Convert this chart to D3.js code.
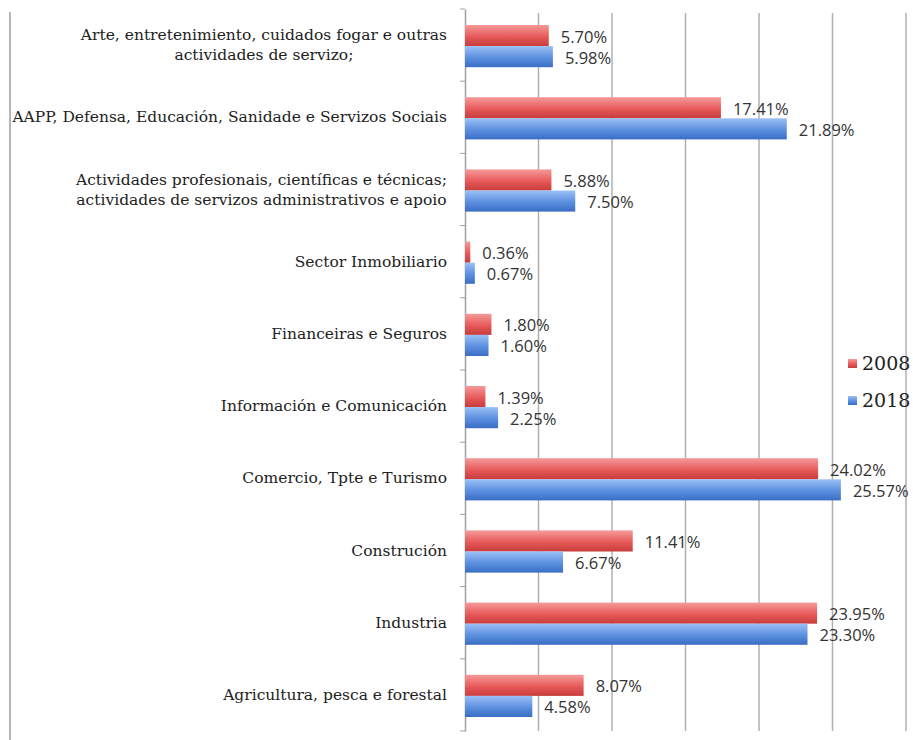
<!DOCTYPE html>
<html>
<head>
<meta charset="utf-8">
<script src="https://cdn.jsdelivr.net/npm/d3@7"></script>
<style>
  body { margin: 0; background: #fff; }
</style>
</head>
<body>
<div id="chart"></div>
<script>
const categories = [
  ["Arte, entretenimiento, cuidados fogar e outras", "actividades de servizo;"],
  ["AAPP, Defensa, Educación, Sanidade e Servizos Sociais"],
  ["Actividades profesionais, científicas e técnicas;", "actividades de servizos administrativos e apoio"],
  ["Sector Inmobiliario"],
  ["Financeiras e Seguros"],
  ["Información e Comunicación"],
  ["Comercio, Tpte e Turismo"],
  ["Construción"],
  ["Industria"],
  ["Agricultura, pesca e forestal"]
]
const years = ["2008", "2018"]
const values2008 = [5.70, 17.41, 5.88, 0.36, 1.80, 1.39, 24.02, 11.41, 23.95, 8.07]
const values2018 = [5.98, 21.89, 7.50, 0.67, 1.60, 2.25, 25.57, 6.67, 23.30, 4.58]
const xTicks = [0, 5, 10, 15, 20, 25, 30]

const svg = d3.select("#chart").append("svg")
  .attr("width", 913)
  .attr("height", 740)

const defs = svg.append("defs")
const grads = [
  {id: "gRed", top: "#f59a9a", mid: "#e85a5a", bot: "#c83c3c"},
  {id: "gBlue", top: "#9cc0f5", mid: "#5b8fe0", bot: "#3a6ec4"}
]
grads.forEach(g => {
  let lg = defs.append("linearGradient").attr("id", g.id)
    .attr("x1", 0).attr("y1", 0).attr("x2", 0).attr("y2", 1)
  lg.append("stop").attr("offset", "0%").attr("stop-color", g.top)
  lg.append("stop").attr("offset", "55%").attr("stop-color", g.mid)
  lg.append("stop").attr("offset", "100%").attr("stop-color", g.bot)
})

const plotLeft = 465, plotRight = 906, plotTop = 9, plotBottom = 731

const x = d3.scaleLinear().domain([0, 30]).range([plotLeft, plotRight])
const y = d3.scaleBand().domain(d3.range(categories.length)).range([plotTop, plotBottom])
const y1 = d3.scaleBand().domain(years).range([16, y.bandwidth() - 14])

// left frame line
svg.append("line")
  .attr("x1", 10).attr("x2", 10).attr("y1", 12).attr("y2", 740)
  .style("stroke", "#b5b5b5").style("stroke-width", 2)

// gridlines
svg.append("g").selectAll("line")
  .data(xTicks.slice(1))
  .enter().append("line")
    .attr("x1", d => x(d)).attr("x2", d => x(d))
    .attr("y1", 13).attr("y2", plotBottom)
    .style("stroke", "#b0b0b0").style("stroke-width", 1.5)

// y axis
const yAxis = d3.axisLeft(y).tickSize(0).tickFormat("")
svg.append("g").attr("transform", `translate(${plotLeft},0)`).call(yAxis)
  .call(g => g.select(".domain").style("stroke", "#a0a0a0").style("stroke-width", 1.5))
svg.append("g").selectAll("line")
  .data(d3.range(categories.length + 1))
  .enter().append("line")
    .attr("x1", plotLeft - 5).attr("x2", plotLeft)
    .attr("y1", d => plotTop + d * y.bandwidth()).attr("y2", d => plotTop + d * y.bandwidth())
    .style("stroke", "#a0a0a0")

// category labels (multi-line ones are centred as a block, right aligned)
const labels = svg.append("g").selectAll("text")
  .data(categories)
  .enter().append("text")
    .attr("text-anchor", "middle")
    .style("font-family", "'DejaVu Serif', serif")
    .style("font-size", "15.5px")
    .style("fill", "#222")
labels.each(function(d, i) {
  let t = d3.select(this)
  d.forEach((line, k) => {
    t.append("tspan").attr("x", 0)
      .attr("y", (k - (d.length - 1) / 2) * 20 + 5)
      .text(line)
  })
  let w = d3.max(t.selectAll("tspan").nodes(), n => n.getComputedTextLength())
  t.attr("transform", `translate(${447 - w / 2},${y(i) + y.bandwidth() / 2})`)
})

// bars
const rows = categories.map((c, i) => ({i: i, v: [values2008[i], values2018[i]]}))
const fills = ["url(#gRed)", "url(#gBlue)"]

const groups = svg.append("g").selectAll("g")
  .data(rows)
  .enter().append("g")
    .attr("transform", d => `translate(0,${y(d.i)})`)

groups.selectAll("rect")
  .data(d => d.v.map((v, k) => ({v: v, k: k})))
  .enter().append("rect")
    .attr("x", plotLeft)
    .attr("y", d => y1(years[d.k]))
    .attr("width", d => x(d.v) - plotLeft)
    .attr("height", y1.bandwidth())
    .attr("fill", d => fills[d.k])

groups.selectAll("text")
  .data(d => d.v.map((v, k) => ({v: v, k: k})))
  .enter().append("text")
    .attr("x", d => x(d.v) + 12)
    .attr("y", d => y1(years[d.k]) + y1.bandwidth() / 2 + 7)
    .style("font-family", "'Open Sans', sans-serif")
    .style("font-size", "16.5px")
    .style("fill", "#333")
    .text(d => d.v.toFixed(2) + "%")

// legend
const legend = svg.append("g").selectAll("g")
  .data(years)
  .enter().append("g")
    .attr("transform", (d, k) => `translate(848,${363 + k * 37})`)
legend.append("rect")
  .attr("x", 0).attr("y", -4).attr("width", 9).attr("height", 9)
  .attr("fill", (d, k) => fills[k])
legend.append("text")
  .attr("x", 14).attr("y", 7)
  .style("font-family", "'DejaVu Serif', serif")
  .style("font-size", "19px")
  .style("fill", "#222")
  .text(d => d)
</script>
</body>
</html>
